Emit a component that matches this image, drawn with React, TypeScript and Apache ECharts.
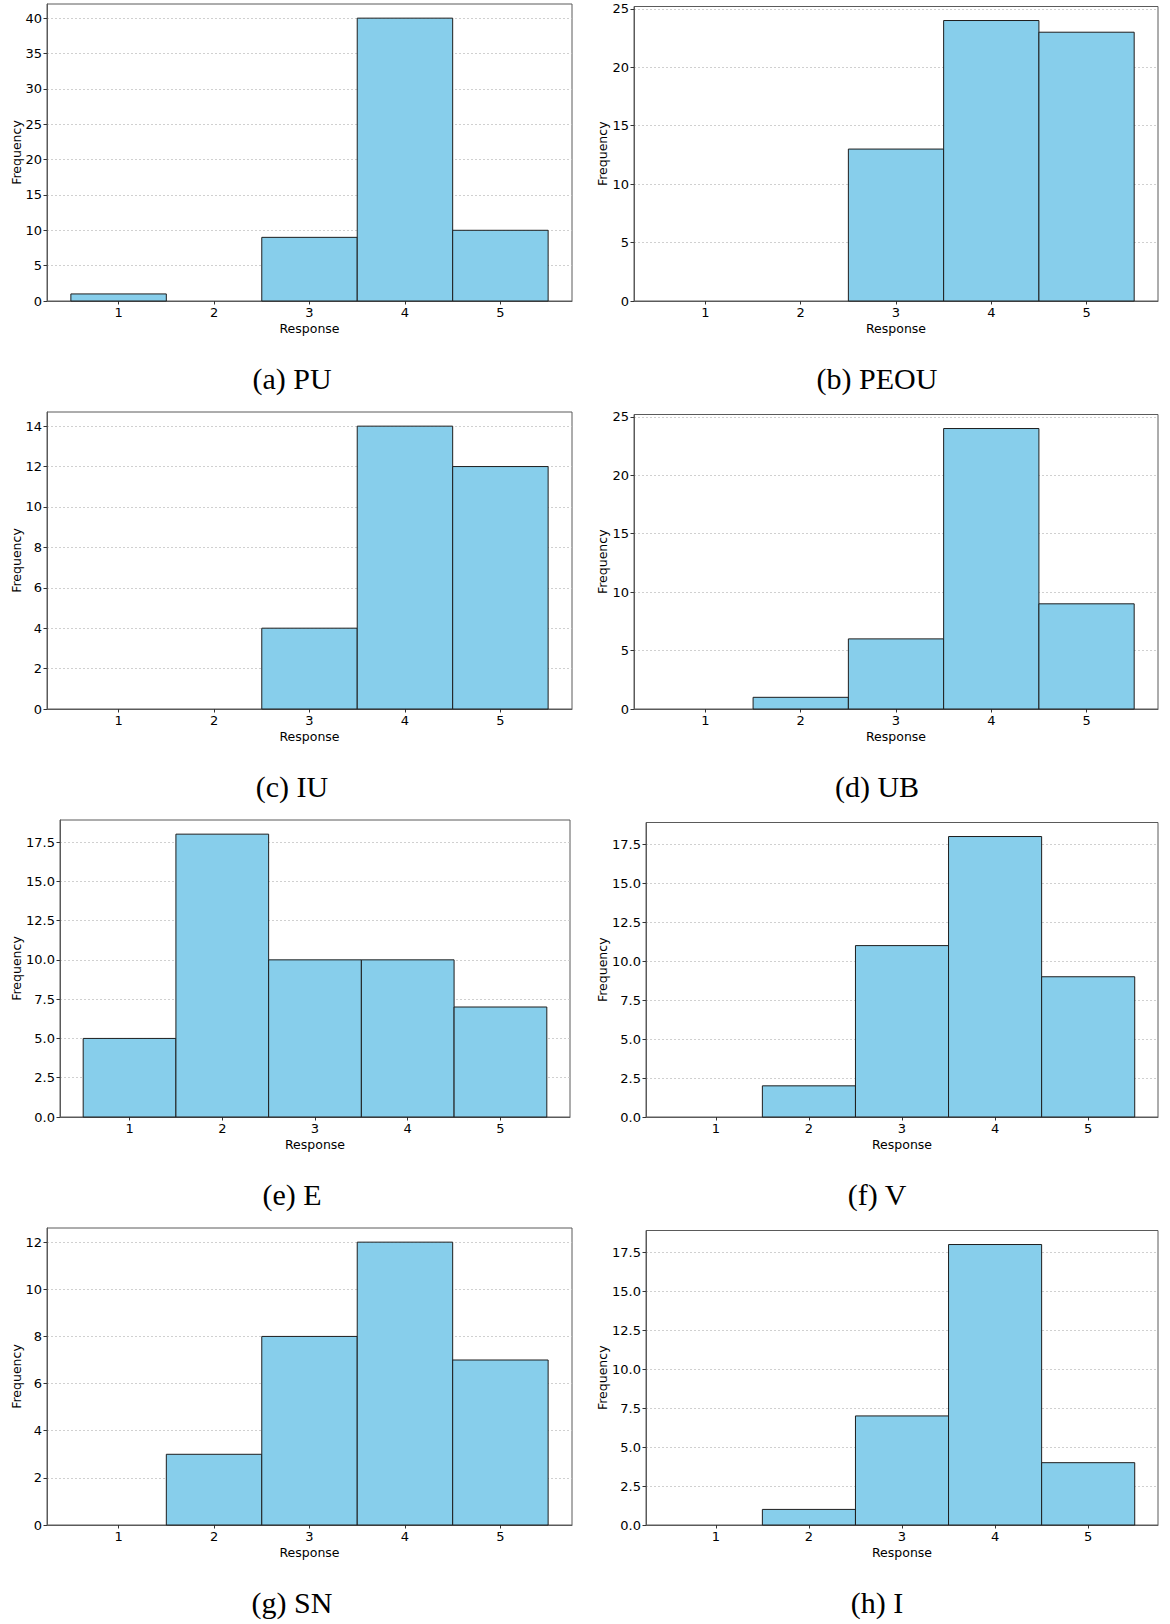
import React, { useEffect, useRef } from "react";
import * as echarts from "echarts";

const responses = [1, 2, 3, 4, 5];
const captions = ["(a) PU", "(b) PEOU", "(c) IU", "(d) UB", "(e) E", "(f) V", "(g) SN", "(h) I"];

const puCounts = [1, 0, 9, 40, 10];
const peouCounts = [0, 0, 13, 24, 23];
const iuCounts = [0, 0, 4, 14, 12];
const ubCounts = [0, 1, 6, 24, 9];
const eCounts = [5, 18, 10, 10, 7];
const vCounts = [0, 2, 11, 18, 9];
const snCounts = [0, 3, 8, 12, 7];
const iCounts = [0, 1, 7, 18, 4];

const puTicks = [0, 5, 10, 15, 20, 25, 30, 35, 40];
const peouTicks = [0, 5, 10, 15, 20, 25];
const iuTicks = [0, 2, 4, 6, 8, 10, 12, 14];
const ubTicks = [0, 5, 10, 15, 20, 25];
const eTicks = [0, 2.5, 5, 7.5, 10, 12.5, 15, 17.5];
const vTicks = [0, 2.5, 5, 7.5, 10, 12.5, 15, 17.5];
const snTicks = [0, 2, 4, 6, 8, 10, 12];
const iTicks = [0, 2.5, 5, 7.5, 10, 12.5, 15, 17.5];

const allCounts = [puCounts, peouCounts, iuCounts, ubCounts, eCounts, vCounts, snCounts, iCounts];
const allTicks = [puTicks, peouTicks, iuTicks, ubTicks, eTicks, vTicks, snTicks, iTicks];
const decimalLabels = [false, false, false, false, true, true, false, true];

const xAxisTitle = "Response";
const yAxisTitle = "Frequency";

const TICK_FONT = "DejaVu Sans";

export default function App() {
  const ref = useRef<HTMLDivElement>(null);

  useEffect(() => {
    document.body.style.margin = "0";
    if (!ref.current) return;
    const chart = echarts.init(ref.current, null, { renderer: "svg" });

    const grids: any[] = [];
    const xAxes: any[] = [];
    const yAxes: any[] = [];
    const series: any[] = [];
    const graphics: any[] = [];

    allCounts.forEach((counts, i) => {
      const col = i % 2;
      const row = Math.floor(i / 2);
      const dec = decimalLabels[i];
      const L = col === 0 ? (dec ? 60 : 47) : dec ? 646 : 634;
      const R = col === 0 ? (dec ? 570 : 572) : 1158;
      const T = (col === 0 ? 4 : 6.5) + 408 * row;
      const B = 301 + 408 * row;
      grids.push({
        left: L,
        top: T,
        width: R - L,
        height: B - T,
        show: true,
        borderColor: "#5a5a5a",
        borderWidth: 1,
        backgroundColor: "#fff",
      });
      const ticks = allTicks[i];
      const ymax = Math.max(...counts) * 1.05;
      xAxes.push({
        gridIndex: i,
        type: "value",
        min: 0.25,
        max: 5.75,
        name: xAxisTitle,
        nameLocation: "middle",
        nameGap: 21,
        nameTextStyle: { fontFamily: TICK_FONT, fontSize: 12.5, color: "#000" },
        axisLine: { show: true, lineStyle: { color: "#5a5a5a", width: 1 } },
        axisTick: { show: true, length: 3.5, customValues: responses, lineStyle: { color: "#333" } },
        axisLabel: {
          customValues: responses,
          margin: 5,
          fontFamily: TICK_FONT,
          fontSize: 13,
          color: "#000",
        },
        splitLine: { show: false },
      });
      yAxes.push({
        gridIndex: i,
        type: "value",
        min: 0,
        max: ymax,
        axisLine: { show: true, lineStyle: { color: "#5a5a5a", width: 1 } },
        axisTick: { show: true, length: 3.5, customValues: ticks, lineStyle: { color: "#333" } },
        axisLabel: {
          customValues: ticks,
          margin: 5,
          fontFamily: TICK_FONT,
          fontSize: 13,
          color: "#000",
          formatter: (v: number) => (dec ? v.toFixed(1) : String(v)),
        },
        splitLine: {
          show: true,
          lineStyle: { color: "#c4c4c4", width: 0.8, type: [2, 2] },
        },
      });
      series.push({
        type: "custom",
        xAxisIndex: i,
        yAxisIndex: i,
        clip: false,
        data: responses.map((r, k) => [r, counts[k]]),
        encode: { x: 0, y: 1 },
        renderItem: (_p: any, api: any) => {
          const x = api.value(0);
          const v = api.value(1);
          if (!v) return null;
          const p0 = api.coord([x - 0.5, 0]);
          const p1 = api.coord([x + 0.5, v]);
          return {
            type: "rect",
            shape: { x: p0[0], y: p1[1], width: p1[0] - p0[0], height: p0[1] - p1[1] },
            style: { fill: "#87CEEB", stroke: "#1e1e1e", lineWidth: 1 },
          };
        },
      });
      graphics.push({
        type: "text",
        x: col === 0 ? 16 : 602,
        y: (T + B) / 2,
        rotation: Math.PI / 2,
        style: {
          text: yAxisTitle,
          fontFamily: TICK_FONT,
          fontSize: 12.5,
          fill: "#000",
          align: "center",
          verticalAlign: "middle",
        },
      });
      graphics.push({
        type: "text",
        x: col === 0 ? 292 : 877,
        y: 378 + 408 * row,
        style: {
          text: captions[i],
          fontFamily: "Liberation Serif",
          fontSize: 30,
          fill: "#000",
          align: "center",
          verticalAlign: "middle",
        },
      });
    });

    chart.setOption({
      animation: false,
      backgroundColor: "#fff",
      grid: grids,
      xAxis: xAxes,
      yAxis: yAxes,
      series,
      graphic: graphics,
    });

    return () => chart.dispose();
  }, []);

  return <div ref={ref} style={{ width: 1170, height: 1624 }} />;
}
